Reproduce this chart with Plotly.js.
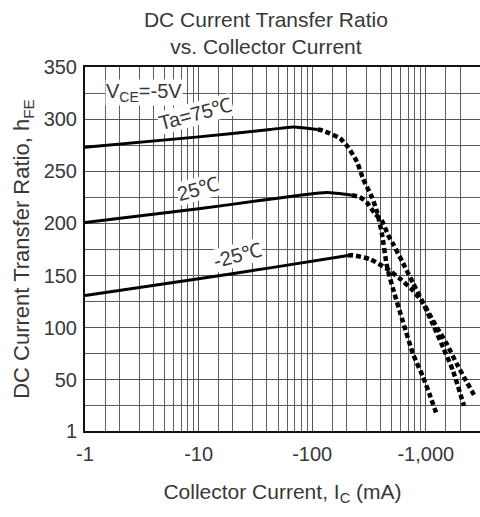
<!DOCTYPE html>
<html>
<head>
<meta charset="utf-8">
<script src="https://cdn.plot.ly/plotly-3.0.1.min.js"></script>
<style>html,body{margin:0;padding:0;background:#fff;}#chart{width:480px;height:517px;}</style>
</head>
<body>
<div id="chart"></div>
<script>
// ---- data (collector current magnitude in mA, hFE) ----
const xTickVals = [1, 10, 100, 1000];
const xTickText = ['-1', '-10', '-100', '-1,000'];
const xMinorVals = [1.5,2,3,4,5,6,7,8,9,15,20,30,40,50,60,70,80,90,150,200,300,400,500,600,700,800,900,1500,2000];
const yTickVals = [1, 50, 100, 150, 200, 250, 300, 350];
const yTickText = ['1', '50', '100', '150', '200', '250', '300', '350'];
const yMinorVals = [25, 75, 125, 175, 225, 275, 325];

const ic75Solid  = [1, 10, 42.5, 68, 112];
const hfe75Solid = [273, 283, 290, 292.5, 290];
const ic75Dot    = [112, 124, 176, 207, 248, 280, 336, 372, 411, 455, 514, 630, 771, 944, 1089, 1256];
const hfe75Dot   = [290, 289, 281.5, 273, 259, 243, 225, 211, 190, 159, 137.5, 105.6, 75, 53, 35, 16];

const ic25Solid  = [1, 10, 34.7, 78, 135, 224];
const hfe25Solid = [201, 214, 222, 227, 229.6, 227];
const ic25Dot    = [224, 264, 303, 357, 411, 465, 514, 630, 771, 944, 1157, 1416, 1735, 2169];
const hfe25Dot   = [227, 225, 220, 209.5, 202.6, 189, 180.6, 162, 143, 124, 103, 81.5, 58.7, 25];

const icM25Solid  = [1, 10, 42.6, 207];
const hfeM25Solid = [131, 147, 157.4, 169.2];
const icM25Dot    = [207, 229, 323, 455, 593, 771, 944, 1089, 1256, 1538, 1882, 2213, 2711];
const hfeM25Dot   = [169.2, 169.4, 165.7, 156.5, 147, 135.6, 124, 112, 100, 84, 65, 51, 34];

const FONT = 'Liberation Sans, Arial, sans-serif';
const TXT = '#383838';

function solid(x, y) {
  return {x: x, y: y, type: 'scatter', mode: 'lines', line: {color: '#000', width: 3, shape: 'spline', smoothing: 0.6}, hoverinfo: 'skip', showlegend: false};
}
function dotted(x, y) {
  return {x: x, y: y, type: 'scatter', mode: 'lines', line: {color: '#000', width: 4.5, dash: '5px,3px', shape: 'spline', smoothing: 0.6}, hoverinfo: 'skip', showlegend: false};
}

const data = [
  solid(ic75Solid, hfe75Solid), dotted(ic75Dot, hfe75Dot),
  solid(ic25Solid, hfe25Solid), dotted(ic25Dot, hfe25Dot),
  solid(icM25Solid, hfeM25Solid), dotted(icM25Dot, hfeM25Dot)
];

const layout = {
  width: 480, height: 517,
  margin: {l: 85, r: 0, t: 67, b: 86},
  paper_bgcolor: '#fff', plot_bgcolor: '#fff',
  font: {family: FONT, color: TXT, size: 20},
  title: {
    text: 'DC Current Transfer Ratio<br>vs. Collector Current',
    x: 0.554, xanchor: 'center', xref: 'container',
    y: 1 - 27 / 517, yanchor: 'middle', yref: 'container',
    font: {family: FONT, size: 21, color: TXT}
  },
  xaxis: {
    type: 'log', range: [0, Math.log10(3000)],
    tickmode: 'array', tickvals: xTickVals, ticktext: xTickText,
    tickfont: {size: 20, color: TXT}, ticks: '', ticklabelstandoff: 4,
    showgrid: true, gridcolor: '#555', gridwidth: 1,
    minor: {tickmode: 'array', tickvals: xMinorVals, showgrid: true, gridcolor: '#5e5e5e', gridwidth: 1, ticks: ''},
    showline: true, linecolor: '#111', linewidth: 2, mirror: true,
    zeroline: false,
    title: {text: 'Collector Current, I<sub>C</sub> (mA)', font: {size: 21, color: TXT}, standoff: 20}
  },
  yaxis: {
    range: [1, 350],
    tickmode: 'array', tickvals: yTickVals, ticktext: yTickText,
    tickfont: {size: 20, color: TXT}, ticks: '', ticklabelstandoff: 2,
    showgrid: true, gridcolor: '#555', gridwidth: 1,
    minor: {tickmode: 'array', tickvals: yMinorVals, showgrid: true, gridcolor: '#5e5e5e', gridwidth: 1, ticks: ''},
    showline: true, linecolor: '#111', linewidth: 2, mirror: false,
    zeroline: false,
    title: {text: 'DC Current Transfer Ratio, h<sub>FE</sub>', font: {size: 22, color: TXT}, standoff: 8}
  },
  annotations: [
    {x: Math.log10(1.5), y: 326, xref: 'x', yref: 'y', xanchor: 'left', yanchor: 'middle',
     text: 'V<sub>CE</sub>=-5V', showarrow: false, bgcolor: '#fff', borderpad: 0,
     font: {family: FONT, size: 20, color: TXT}},
    {x: Math.log10(9.3), y: 305, xref: 'x', yref: 'y', text: 'Ta=75\u2103', showarrow: false,
     textangle: -15, bgcolor: '#fff', borderpad: 0, font: {family: FONT, size: 20, color: TXT}},
    {x: Math.log10(9.9), y: 233, xref: 'x', yref: 'y', text: '25\u2103', showarrow: false,
     textangle: -15, bgcolor: '#fff', borderpad: 0, font: {family: FONT, size: 20, color: TXT}},
    {x: Math.log10(22.2), y: 170, xref: 'x', yref: 'y', text: '-25\u2103', showarrow: false,
     textangle: -15, bgcolor: '#fff', borderpad: 0, font: {family: FONT, size: 20, color: TXT}}
  ]
};

Plotly.newPlot('chart', data, layout, {staticPlot: true, displayModeBar: false});
</script>
</body>
</html>
